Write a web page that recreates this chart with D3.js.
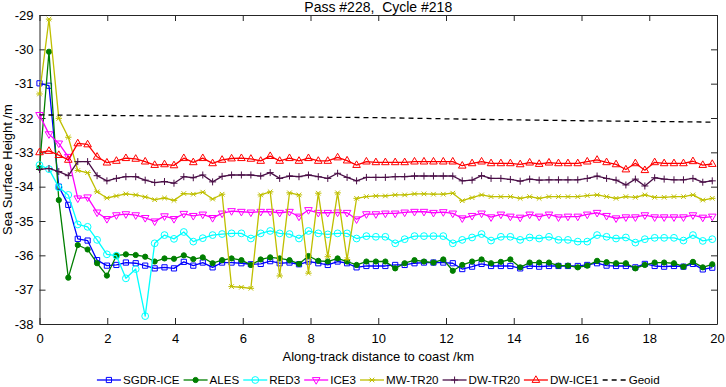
<!DOCTYPE html>
<html>
<head>
<meta charset="utf-8">
<script src="https://cdn.jsdelivr.net/npm/d3@7"></script>
<style>
  body { margin: 0; background: #fff; }
  text { font-family: "Liberation Sans", Arial, Helvetica, sans-serif; fill: #000; }
</style>
</head>
<body>
<svg id="chart"></svg>
<script>
// along-track distance of each 20 Hz sample (km)
const distance = [0, 0.28, 0.57, 0.85, 1.13, 1.42, 1.70, 1.99, 2.27, 2.55, 2.84, 3.12, 3.40, 3.69, 3.97,
  4.26, 4.54, 4.82, 5.11, 5.39, 5.67, 5.96, 6.24, 6.53, 6.81, 7.09, 7.38, 7.66, 7.94, 8.23, 8.51,
  8.80, 9.08, 9.36, 9.65, 9.93, 10.21, 10.50, 10.78, 11.07, 11.35, 11.63, 11.92, 12.20, 12.48, 12.77,
  13.05, 13.33, 13.62, 13.90, 14.19, 14.47, 14.75, 15.04, 15.32, 15.60, 15.89, 16.17, 16.46, 16.74,
  17.02, 17.31, 17.59, 17.87, 18.16, 18.44, 18.73, 19.01, 19.29, 19.58, 19.86]

const sgdrIce = [-30.99, -31.06, -34.00, -34.53, -35.52, -35.57, -36.14, -36.30, -36.28, -36.21, -36.23,
  -36.30, -36.38, -36.35, -36.38, -36.19, -36.30, -36.21, -36.35, -36.21, -36.21, -36.23, -36.26, -36.25,
  -36.17, -36.23, -36.21, -36.26, -36.18, -36.23, -36.28, -36.18, -36.23, -36.35, -36.31, -36.31, -36.31,
  -36.28, -36.28, -36.23, -36.21, -36.21, -36.21, -36.23, -36.40, -36.33, -36.25, -36.31, -36.31, -36.31,
  -36.38, -36.31, -36.33, -36.31, -36.31, -36.31, -36.31, -36.28, -36.23, -36.30, -36.31, -36.31, -36.35,
  -36.25, -36.31, -36.33, -36.31, -36.33, -36.25, -36.41, -36.36]

const ales = [-33.45, -30.07, -34.39, -36.65, -35.70, -35.83, -36.23, -36.59, -36.01, -35.97, -35.99,
  -36.04, -36.18, -36.09, -36.10, -36.00, -36.11, -36.06, -36.23, -36.14, -36.09, -36.14, -36.28, -36.12,
  -36.06, -36.09, -36.14, -36.25, -36.02, -36.16, -36.18, -36.09, -36.18, -36.28, -36.18, -36.18, -36.18,
  -36.38, -36.23, -36.14, -36.18, -36.21, -36.12, -36.45, -36.28, -36.18, -36.12, -36.23, -36.19, -36.12,
  -36.35, -36.21, -36.21, -36.21, -36.30, -36.30, -36.35, -36.30, -36.16, -36.20, -36.23, -36.23, -36.38,
  -36.28, -36.21, -36.21, -36.23, -36.33, -36.19, -36.35, -36.26]

const red3 = [-33.37, -33.49, -34.02, -34.24, -35.10, -35.17, -35.55, -35.97, -36.01, -36.67, -36.40,
  -37.77, -35.65, -35.41, -35.52, -35.32, -35.60, -35.50, -35.41, -35.38, -35.36, -35.36, -35.51, -35.36,
  -35.29, -35.36, -35.38, -35.51, -35.29, -35.36, -35.39, -35.36, -35.36, -35.51, -35.44, -35.46, -35.46,
  -35.65, -35.53, -35.44, -35.44, -35.44, -35.44, -35.65, -35.55, -35.48, -35.38, -35.57, -35.46, -35.46,
  -35.55, -35.48, -35.51, -35.46, -35.55, -35.55, -35.60, -35.60, -35.41, -35.46, -35.51, -35.48, -35.63,
  -35.53, -35.49, -35.49, -35.49, -35.57, -35.41, -35.58, -35.53]

const ice3 = [-31.91, -32.47, -32.74, -33.13, -34.34, -34.31, -34.75, -34.94, -34.83, -34.80, -34.83,
  -34.91, -35.01, -34.86, -34.94, -34.79, -34.85, -34.81, -34.91, -34.78, -34.71, -34.73, -34.75, -34.73,
  -34.73, -34.76, -34.73, -34.87, -34.68, -34.76, -34.76, -34.75, -34.76, -34.95, -34.80, -34.80, -34.78,
  -34.78, -34.75, -34.73, -34.73, -34.76, -34.74, -34.78, -34.92, -34.85, -34.78, -34.89, -34.81, -34.87,
  -34.90, -34.81, -34.87, -34.81, -34.89, -34.87, -34.87, -34.81, -34.76, -34.85, -34.92, -34.89, -34.89,
  -34.83, -34.89, -34.89, -34.89, -34.89, -34.83, -34.90, -34.87]

const mwTr20 = [-31.30, -29.12, -32.01, -32.56, -33.53, -33.59, -34.15, -34.33, -34.27, -34.21, -34.24,
  -34.30, -34.38, -34.33, -34.40, -34.20, -34.22, -34.16, -34.36, -34.22, -36.91, -36.93, -36.96, -34.24,
  -34.15, -36.60, -34.18, -34.24, -36.52, -34.19, -36.04, -34.18, -36.12, -34.34, -34.29, -34.27, -34.27,
  -34.24, -34.24, -34.21, -34.21, -34.22, -34.22, -34.19, -34.41, -34.32, -34.24, -34.29, -34.29, -34.29,
  -34.34, -34.29, -34.34, -34.29, -34.29, -34.29, -34.29, -34.26, -34.24, -34.29, -34.34, -34.29, -34.31,
  -34.24, -34.31, -34.31, -34.29, -34.29, -34.24, -34.39, -34.34]

const dwTr20 = [-33.50, -33.47, -33.56, -33.68, -33.27, -33.27, -33.68, -33.83, -33.76, -33.71, -33.71,
  -33.81, -33.88, -33.85, -33.90, -33.71, -33.74, -33.66, -33.86, -33.70, -33.66, -33.66, -33.66, -33.69,
  -33.59, -33.76, -33.69, -33.71, -33.66, -33.71, -33.76, -33.61, -33.73, -33.83, -33.73, -33.73, -33.73,
  -33.71, -33.71, -33.69, -33.69, -33.69, -33.69, -33.69, -33.83, -33.81, -33.68, -33.76, -33.76, -33.79,
  -33.84, -33.78, -33.81, -33.80, -33.80, -33.80, -33.80, -33.76, -33.69, -33.76, -33.81, -33.95, -33.78,
  -33.98, -33.74, -33.78, -33.80, -33.80, -33.76, -33.87, -33.83]

const dwIce1 = [-33.00, -32.96, -33.08, -33.22, -32.74, -32.77, -33.13, -33.30, -33.25, -33.17, -33.19,
  -33.27, -33.37, -33.35, -33.38, -33.17, -33.29, -33.17, -33.32, -33.22, -33.18, -33.17, -33.19, -33.25,
  -33.11, -33.25, -33.17, -33.25, -33.17, -33.25, -33.25, -33.15, -33.24, -33.37, -33.27, -33.29, -33.29,
  -33.29, -33.29, -33.27, -33.27, -33.27, -33.27, -33.27, -33.39, -33.32, -33.27, -33.32, -33.32, -33.32,
  -33.35, -33.30, -33.34, -33.30, -33.32, -33.32, -33.32, -33.27, -33.22, -33.29, -33.35, -33.50, -33.32,
  -33.52, -33.29, -33.32, -33.32, -33.32, -33.26, -33.37, -33.34]

const geoidDistance = [0, 5, 10, 13, 16, 19.86]
const geoid = [-31.91, -31.95, -31.99, -32.04, -32.08, -32.12]

const xTicks = [0, 2, 4, 6, 8, 10, 12, 14, 16, 18, 20]
const yTicks = [-38, -37, -36, -35, -34, -33, -32, -31, -30, -29]
const seriesNames = ["SGDR-ICE", "ALES", "RED3", "ICE3", "MW-TR20", "DW-TR20", "DW-ICE1", "Geoid"]
const seriesValues = [sgdrIce, ales, red3, ice3, mwTr20, dwTr20, dwIce1]

const width = 726
const height = 387
const margin = { top: 15, right: 9, bottom: 63, left: 39.5 }

// look of each series, same order as seriesNames
const styles = [
  { color: "#0000ff", marker: "square" },
  { color: "#007f00", marker: "dot" },
  { color: "#00ffff", marker: "circle" },
  { color: "#ff00ff", marker: "triangleDown" },
  { color: "#bfbf00", marker: "asterisk" },
  { color: "#4a0f47", marker: "plus" },
  { color: "#ff0000", marker: "triangleUp" },
  { color: "#000000", marker: "none", dash: "5,4" },
]

const markerPath = (type) => {
  if (type === "square") return "M-2.6,-2.6h5.2v5.2h-5.2Z"
  if (type === "triangleUp") return "M0,-4.2L3.8,2.4L-3.8,2.4Z"
  if (type === "triangleDown") return "M0,4.2L3.8,-2.4L-3.8,-2.4Z"
  if (type === "plus") return "M-3.5,0H3.5M0,-3.5V3.5"
  if (type === "asterisk") return "M-3.2,0H3.2M-2.3,-2.3L2.3,2.3M-2.3,2.3L2.3,-2.3"
  return null
}

const drawMarker = (sel, type, color) => {
  if (type === "dot") {
    sel.append("circle").attr("r", 2.6).attr("fill", color).attr("stroke", color)
  } else if (type === "circle") {
    sel.append("circle").attr("r", 3.4).attr("fill", "none").attr("stroke", color).attr("stroke-width", 1)
  } else if (type !== "none") {
    sel.append("path").attr("d", markerPath(type)).attr("fill", "none")
      .attr("stroke", color).attr("stroke-width", 1)
  }
}

const svg = d3.select("#chart").attr("width", width).attr("height", height)

const x = d3.scaleLinear().domain([0, 20]).range([margin.left, width - margin.right])
const y = d3.scaleLinear().domain([-38, -29]).range([height - margin.bottom, margin.top])

// axes, ticks pointing inwards, box all round
const tickLen = 6
const axisColor = "#262626"
const styleAxis = (g) => {
  g.select(".domain").attr("stroke", axisColor)
  g.selectAll(".tick line").attr("stroke", axisColor)
  g.selectAll(".tick text").attr("font-size", 13).attr("fill", "#000")
    .attr("font-family", '"Liberation Sans", Arial, sans-serif')
}

svg.append("g")
  .attr("transform", `translate(0,${height - margin.bottom})`)
  .call(d3.axisBottom(x).tickValues(xTicks).tickSizeInner(-tickLen).tickSizeOuter(0)
    .tickPadding(10).tickFormat((d) => String(d)))
  .call(styleAxis)

svg.append("g")
  .attr("transform", `translate(0,${margin.top})`)
  .call(d3.axisTop(x).tickValues(xTicks).tickSizeInner(-tickLen).tickSizeOuter(0).tickFormat(""))
  .call(styleAxis)

svg.append("g")
  .attr("transform", `translate(${margin.left},0)`)
  .call(d3.axisLeft(y).tickValues(yTicks).tickSizeInner(-tickLen).tickSizeOuter(0)
    .tickPadding(6).tickFormat((d) => String(d)))
  .call(styleAxis)

svg.append("g")
  .attr("transform", `translate(${width - margin.right},0)`)
  .call(d3.axisRight(y).tickValues(yTicks).tickSizeInner(-tickLen).tickSizeOuter(0).tickFormat(""))
  .call(styleAxis)

// series
const line = d3.line().x((d) => x(d[0])).y((d) => y(d[1]))
const plot = svg.append("g")

seriesValues.forEach((values, i) => {
  const pts = values.map((v, j) => [distance[j], v])
  const st = styles[i]
  plot.append("path")
    .attr("d", line(pts))
    .attr("fill", "none")
    .attr("stroke", st.color)
    .attr("stroke-width", 1.3)
    .attr("stroke-linejoin", "round")
  plot.append("g")
    .selectAll("g")
    .data(pts)
    .join("g")
    .attr("transform", (d) => `translate(${x(d[0])},${y(d[1])})`)
    .each(function () { drawMarker(d3.select(this), st.marker, st.color) })
})

plot.append("path")
  .attr("d", line(geoidDistance.map((d, j) => [d, geoid[j]])))
  .attr("fill", "none")
  .attr("stroke", "#000")
  .attr("stroke-width", 1.3)
  .attr("stroke-dasharray", styles[7].dash)

// labels
svg.append("text")
  .attr("x", x(10)).attr("y", 12)
  .attr("text-anchor", "middle")
  .attr("font-size", 14)
  .style("white-space", "pre")
  .text("Pass #228,  Cycle #218")

svg.append("text")
  .attr("x", x(10)).attr("y", 361)
  .attr("text-anchor", "middle")
  .attr("font-size", 13)
  .text("Along-track distance to coast /km")

svg.append("text")
  .attr("transform", `translate(12,${(margin.top + height - margin.bottom) / 2}) rotate(-90)`)
  .attr("text-anchor", "middle")
  .attr("font-size", 13)
  .text("Sea Surface Height /m")

// legend, one row under the x label
const legend = svg.append("g")
let cursor = 0
seriesNames.forEach((name, i) => {
  const st = styles[i]
  const item = legend.append("g").attr("transform", `translate(${cursor},0)`)
  item.append("line")
    .attr("x1", 0).attr("x2", 24).attr("y1", 0).attr("y2", 0)
    .attr("stroke", st.color).attr("stroke-width", 1.3)
    .attr("stroke-dasharray", st.dash || null)
  drawMarker(item.append("g").attr("transform", "translate(12,0)"), st.marker, st.color)
  const label = item.append("text")
    .attr("x", 26).attr("y", 0).attr("dy", "0.36em")
    .attr("font-size", 11.6)
    .text(name)
  cursor += 26 + label.node().getComputedTextLength() + 4
})
const legendWidth = cursor - 4
legend.attr("transform", `translate(${x(10) - legendWidth / 2},380)`)
</script>
</body>
</html>
